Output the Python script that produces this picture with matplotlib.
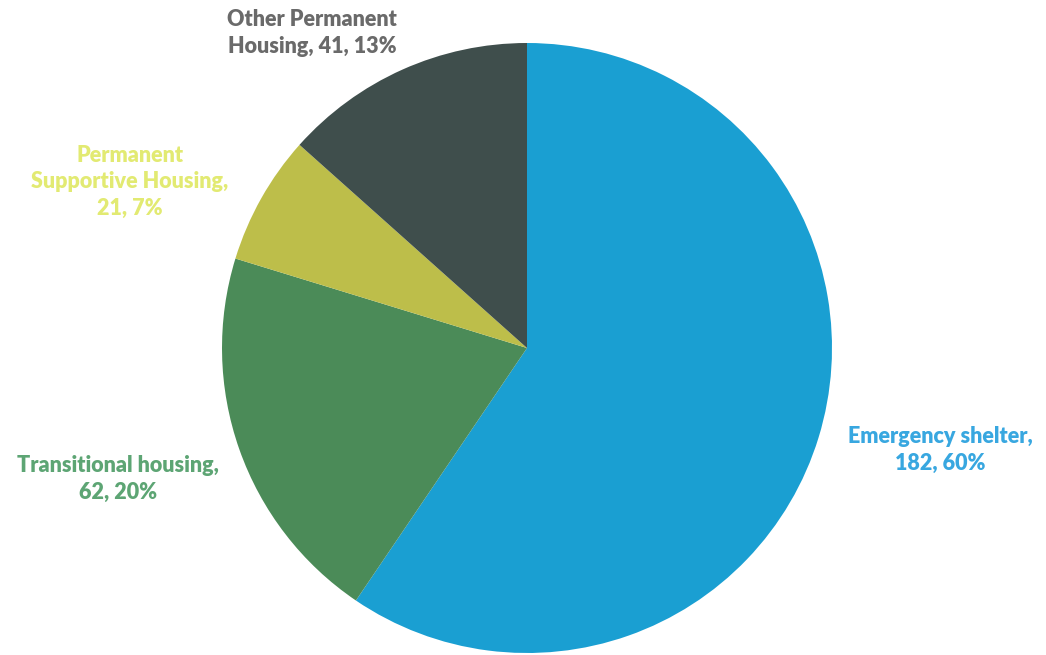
import matplotlib.pyplot as plt

# data
categories = ["Emergency shelter", "Transitional housing", "Permanent\nSupportive Housing", "Other Permanent\nHousing"]
counts = [182, 62, 21, 41]
percents = [60, 20, 7, 13]
colors = ["#1A9FD2", "#4B8B58", "#BDBE4A", "#3F4E4C"]
label_colors = ["#38A7E0", "#5DA574", "#E2EA72", "#6A6A6A"]

fig = plt.figure(figsize=(10.46, 6.55), dpi=100)
ax = fig.add_axes([0, 0, 1, 1])

ax.pie(counts, colors=colors, startangle=90, counterclock=False,
       center=(527, 655 - 348), radius=305, frame=True)
ax.set_xlim(0, 1046)
ax.set_ylim(0, 655)
ax.set_aspect("equal")
ax.axis("off")

# label positions (pixel coords from top-left)
label_pos = [(940, 450), (118, 479), (130, 182), (312, 33)]
texts = [
    "Emergency shelter,\n%d, %d%%" % (counts[0], percents[0]),
    "Transitional housing,\n%d, %d%%" % (counts[1], percents[1]),
    "Permanent\nSupportive Housing,\n%d, %d%%" % (counts[2], percents[2]),
    "Other Permanent\nHousing, %d, %d%%" % (counts[3], percents[3]),
]
for (x, y), t, c in zip(label_pos, texts, label_colors):
    ax.text(x, 655 - y, t, ha="center", va="center", color=c,
            fontsize=15.5, fontweight="heavy", family="Lato", linespacing=1.3)

fig.savefig("out.png", dpi=100)
